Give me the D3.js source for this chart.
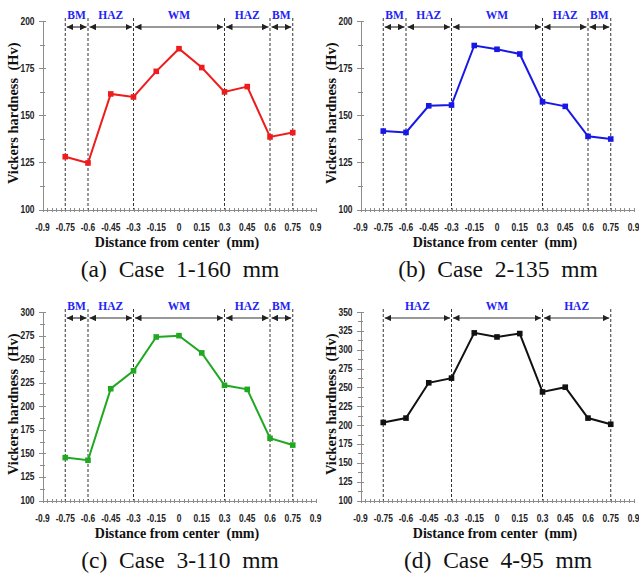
<!DOCTYPE html>
<html>
<meta charset="utf-8">
<head>
<style>
body {
    margin: 0;
    background: #fff;
}
.axis path,
.axis line {
    fill: none;
    stroke: #8c8c8c;
    stroke-width: 1;
    shape-rendering: crispEdges;
}
.tick-label {
    font-family: "Liberation Sans", Arial, sans-serif;
    font-weight: bold;
    font-size: 10px;
    fill: #222;
}
.axis-title {
    font-family: "Liberation Serif", "Times New Roman", serif;
    font-weight: bold;
    fill: #111;
}
.zone {
    font-family: "Liberation Serif", "Times New Roman", serif;
    font-weight: bold;
    font-size: 11.5px;
    fill: #2323f5;
}
.caption {
    font-family: "Liberation Serif", "Times New Roman", serif;
    font-size: 23.5px;
    fill: #111;
    white-space: pre;
}
</style>
<script src="https://d3js.org/d3.v7.min.js"></script>
</head>
<body>
<script type="text/javascript">
// distance from weld centre (mm), same for all four cases
var distances = [-0.75, -0.6, -0.45, -0.3, -0.15, 0, 0.15, 0.3, 0.45, 0.6, 0.75];

var hvCase1 = [128, 124.7, 161.3, 159.7, 173.3, 185.3, 175.3, 162.4, 165.2, 138.5, 140.8];
var hvCase2 = [141.6, 140.9, 155.0, 155.4, 187.0, 185.0, 182.5, 157.1, 154.7, 138.8, 137.4];
var hvCase3 = [145.5, 142.7, 218.6, 237.6, 273.5, 274.9, 256.6, 222.2, 217.9, 166.0, 158.8];
var hvCase4 = [203.5, 209.3, 256.1, 262.3, 322.3, 316.9, 321.4, 244.0, 250.3, 209.3, 201.1];

var xTicks = [-0.9, -0.75, -0.6, -0.45, -0.3, -0.15, 0, 0.15, 0.3, 0.45, 0.6, 0.75, 0.9];
var yTicks12 = [100, 125, 150, 175, 200];
var yTicks3 = [100, 125, 150, 175, 200, 225, 250, 275, 300];
var yTicks4 = [100, 125, 150, 175, 200, 225, 250, 275, 300, 325, 350];

var zones5 = [["BM", -0.75, -0.6], ["HAZ", -0.6, -0.3], ["WM", -0.3, 0.3], ["HAZ", 0.3, 0.6], ["BM", 0.6, 0.75]];
var zones3 = [["HAZ", -0.75, -0.3], ["WM", -0.3, 0.3], ["HAZ", 0.3, 0.75]];

var captions = ["(a)  Case  1-160  mm", "(b)  Case  2-135  mm", "(c)  Case  3-110  mm", "(d)  Case  4-95  mm"];

var panels = [
    {dx: 0,   dy: 0,   values: hvCase1, yTicks: yTicks12, zones: zones5, color: "#ee1c1c", caption: captions[0]},
    {dx: 318, dy: 0,   values: hvCase2, yTicks: yTicks12, zones: zones5, color: "#1818e6", caption: captions[1]},
    {dx: 0,   dy: 291, values: hvCase3, yTicks: yTicks3,  zones: zones5, color: "#20a820", caption: captions[2]},
    {dx: 318, dy: 291, values: hvCase4, yTicks: yTicks4,  zones: zones3, color: "#111111", caption: captions[3]}
];

var W = 639, H = 576;
var svg = d3.select("body").append("svg")
    .attr("width", W)
    .attr("height", H);

var defs = svg.append("defs");
defs.append("marker")
    .attr("id", "ah")
    .attr("viewBox", "0 0 10 10")
    .attr("refX", 10).attr("refY", 5)
    .attr("markerWidth", 6.5).attr("markerHeight", 6.5)
    .attr("markerUnits", "userSpaceOnUse")
    .attr("orient", "auto-start-reverse")
  .append("path")
    .attr("d", "M0,0L10,5L0,10z")
    .attr("fill", "#222");

function fmtX(d) {
    return d === 0 ? "0" : String(+d.toFixed(2));
}

// squeeze tick labels to look like a narrow face
function narrow(sel) {
    sel.each(function() {
        var w = this.getComputedTextLength();
        d3.select(this).attr("textLength", w * 0.84).attr("lengthAdjust", "spacingAndGlyphs");
    });
}

function drawPanel(p) {
    var left = 42.5, right = 315.5, top = 21, bottom = 209.5;
    var g = svg.append("g").attr("transform", "translate(" + p.dx + "," + p.dy + ")");

    var x = d3.scaleLinear().domain([-0.9, 0.9]).range([left, right]);
    var yMax = p.yTicks[p.yTicks.length - 1];
    var y = d3.scaleLinear().domain([100, yMax]).range([bottom, top]);

    // minor ticks: x every 0.03, y every half step
    var xMinor = d3.range(-0.9, 0.9001, 0.03);
    var yMinor = d3.range(100, yMax + 0.1, 12.5);

    var xAxis = g.append("g").attr("class", "axis")
        .attr("transform", "translate(0," + bottom + ")")
        .call(d3.axisBottom(x).tickValues(xMinor).tickSize(3).tickSizeOuter(0).tickFormat(""));
    xAxis.selectAll(".tick line").attr("y1", -2).attr("y2", 2);

    var yAxis = g.append("g").attr("class", "axis")
        .attr("transform", "translate(" + left + ",0)")
        .call(d3.axisLeft(y).tickValues(yMinor).tickSize(3).tickSizeOuter(0).tickFormat(""));
    yAxis.selectAll(".tick line")
        .attr("x1", function(d) { return d % 25 === 0 ? 3.5 : 2.5; })
        .attr("x2", function(d) { return d % 25 === 0 ? -3.5 : -2.5; });

    g.selectAll(".xlab")
        .data(xTicks)
      .enter().append("text")
        .attr("class", "tick-label")
        .attr("text-anchor", "middle")
        .attr("x", function(d) { return x(d); })
        .attr("y", bottom + 21)
        .text(fmtX)
        .call(narrow);

    g.selectAll(".ylab")
        .data(p.yTicks)
      .enter().append("text")
        .attr("class", "tick-label")
        .attr("text-anchor", "end")
        .attr("x", left - 8)
        .attr("y", function(d) { return y(d) + 3.5; })
        .text(function(d) { return d; })
        .call(narrow);

    // zone boundaries
    var bounds = [];
    p.zones.forEach(function(z) {
        if (bounds.indexOf(z[1]) < 0) bounds.push(z[1]);
        if (bounds.indexOf(z[2]) < 0) bounds.push(z[2]);
    });
    g.selectAll(".bound")
        .data(bounds)
      .enter().append("line")
        .attr("x1", function(d) { return x(d); })
        .attr("x2", function(d) { return x(d); })
        .attr("y1", top - 3)
        .attr("y2", bottom)
        .attr("stroke", "#333")
        .attr("stroke-width", 1)
        .attr("stroke-dasharray", "3,2");

    var arrowY = top + 6;
    g.selectAll(".zarrow")
        .data(p.zones)
      .enter().append("line")
        .attr("x1", function(d) { return x(d[1]) + 1.5; })
        .attr("x2", function(d) { return x(d[2]) - 1.5; })
        .attr("y1", arrowY)
        .attr("y2", arrowY)
        .attr("stroke", "#333")
        .attr("stroke-width", 1.2)
        .attr("marker-start", "url(#ah)")
        .attr("marker-end", "url(#ah)");

    g.selectAll(".zname")
        .data(p.zones)
      .enter().append("text")
        .attr("class", "zone")
        .attr("text-anchor", "middle")
        .attr("x", function(d) { return x((d[1] + d[2]) / 2); })
        .attr("y", top - 2)
        .text(function(d) { return d[0]; });

    // data line + square markers
    var pts = distances.map(function(d, i) { return [d, p.values[i]]; });
    g.append("path")
        .datum(pts)
        .attr("fill", "none")
        .attr("stroke", p.color)
        .attr("stroke-width", 2)
        .attr("d", d3.line().x(function(d) { return x(d[0]); }).y(function(d) { return y(d[1]); }));

    g.selectAll(".pt")
        .data(pts)
      .enter().append("rect")
        .attr("x", function(d) { return x(d[0]) - 2.8; })
        .attr("y", function(d) { return y(d[1]) - 2.8; })
        .attr("width", 5.6)
        .attr("height", 5.6)
        .attr("fill", p.color);

    // titles
    g.append("text")
        .attr("class", "axis-title")
        .attr("font-size", "14px")
        .attr("text-anchor", "middle")
        .attr("x", (left + right) / 2 - 2)
        .attr("y", bottom + 37)
        .style("white-space", "pre")
        .text("Distance from center  (mm)");

    g.append("text")
        .attr("class", "axis-title")
        .attr("font-size", "14.5px")
        .attr("text-anchor", "middle")
        .attr("transform", "translate(17.5," + ((top + bottom) / 2 - 2) + ") rotate(-90)")
        .style("white-space", "pre")
        .text("Vickers hardness  (Hv)");

    g.append("text")
        .attr("class", "caption")
        .attr("text-anchor", "middle")
        .attr("x", 180)
        .attr("y", 277)
        .text(p.caption);
}

panels.forEach(drawPanel);
</script>
</body>
</html>
